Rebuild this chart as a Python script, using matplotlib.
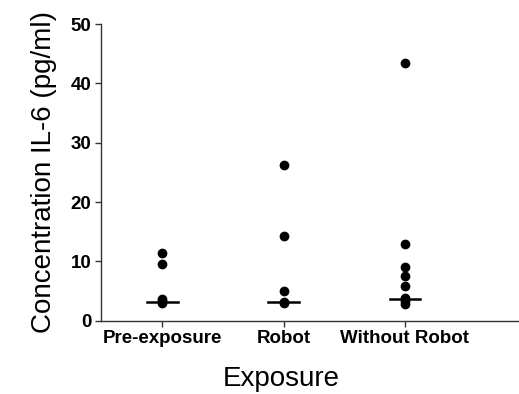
import matplotlib
matplotlib.use('Agg')
import matplotlib.pyplot as plt

plt.rcParams['font.family'] = ['Liberation Sans', 'DejaVu Sans']

# Data (pg/ml)
groups = ['Pre-exposure', 'Robot', 'Without Robot']
pre_exposure = [11.4, 9.6, 3.7, 3.3, 3.0]
robot = [26.2, 14.3, 5.0, 3.2, 3.0]
without_robot = [43.5, 13.0, 9.0, 7.5, 5.9, 3.9, 3.3, 2.9]
medians = [3.2, 3.1, 3.7]

values = [pre_exposure, robot, without_robot]

fig = plt.figure(figsize=(5.19, 3.94), dpi=100)
ax = fig.add_axes([0.1946, 0.186, 0.81, 0.753])

for i, vals in enumerate(values):
    ax.plot([i] * len(vals), vals, 'o', color='black', markersize=6, zorder=3)
    ax.plot([i - 0.125, i + 0.125], [medians[i], medians[i]], color='black',
            linewidth=1.8, zorder=2)

ax.set_xlim(-0.506, 2.96)
ax.set_ylim(0, 50)
ax.set_xticks(range(len(groups)))
ax.set_xticklabels(groups, fontsize=13.5, fontweight='bold')
ax.set_yticks([0, 10, 20, 30, 40, 50])
ax.set_yticklabels(['0', '10', '20', '30', '40', '50'], fontsize=13.5, fontweight='bold')

ax.spines['top'].set_visible(False)
ax.spines['right'].set_visible(False)
for s in ['left', 'bottom']:
    ax.spines[s].set_color('#333333')
    ax.spines[s].set_linewidth(1.0)
ax.tick_params(direction='out', length=4, width=1, color='#333333', pad=3)

ax.set_xlabel('Exposure', fontsize=20)
ax.xaxis.set_label_coords(0.428, -0.152)
ax.set_ylabel('Concentration IL-6 (pg/ml)', fontsize=20, labelpad=10)

fig.savefig('out.png', dpi=100)
